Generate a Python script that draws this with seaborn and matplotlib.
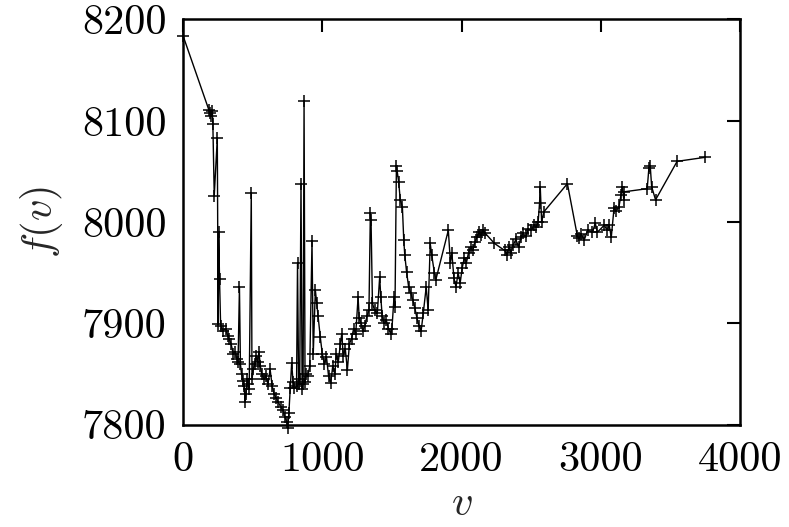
import matplotlib
matplotlib.use("Agg")
import matplotlib.pyplot as plt
import seaborn as sns
import pandas as pd

v = [0, 185, 192, 200, 210, 214, 224, 246, 252, 256, 262, 270,
     290, 305, 320, 330, 345, 360, 375, 385, 395, 405, 412, 420, 430, 440, 445, 452, 460, 468, 475,
     490, 495, 505, 515, 525, 535, 545, 555, 565, 580, 595, 610, 625, 640, 655, 670, 685, 700, 715,
     730, 745, 752, 760, 770, 780, 790, 800, 815, 822, 830, 838, 847, 855, 862, 869, 876, 885, 895,
     910, 926, 935, 950, 960, 970, 985, 1000, 1015, 1030, 1045, 1060, 1075, 1090, 1100, 1115, 1130,
     1140, 1150, 1165, 1180, 1195, 1210, 1225, 1240, 1257, 1265, 1280, 1290, 1305, 1320, 1335, 1345,
     1350, 1360, 1375, 1395, 1412, 1420, 1430, 1445, 1460, 1475, 1490, 1500, 1515, 1522, 1532, 1538,
     1548, 1560, 1575, 1585, 1592, 1605, 1620, 1635, 1650, 1665, 1680, 1695, 1710, 1725, 1746, 1760,
     1775, 1785, 1805, 1815, 1905, 1920, 1930, 1945, 1960, 1975, 1990, 2005, 2020, 2035, 2050, 2065,
     2080, 2095, 2110, 2125, 2140, 2155, 2170, 2236, 2310, 2325, 2340, 2355, 2370, 2390, 2410, 2425,
     2440, 2460, 2480, 2500, 2520, 2535, 2550, 2560, 2565, 2575, 2590, 2760, 2832, 2845, 2860, 2880,
     2905, 2940, 2960, 2975, 3025, 3045, 3060, 3075, 3095, 3110, 3130, 3145, 3155, 3165, 3170, 3333,
     3345, 3355, 3365, 3393, 3548, 3751]

f = [8184, 8111, 8108, 8105, 8110, 8097, 8026, 8083, 7899, 7990, 7944, 7897,
     7893, 7895, 7888, 7885, 7880, 7870, 7872, 7865, 7862, 7936, 7860, 7850, 7843, 7838, 7822, 7830, 7845, 7840, 7835,
     8029, 7845, 7855, 7860, 7868, 7862, 7872, 7858, 7850, 7845, 7848, 7840, 7855, 7838, 7830, 7826, 7822, 7818, 7815,
     7808, 7803, 7797, 7812, 7836, 7861, 7842, 7836, 7838, 7960, 7840, 7845, 8038, 7835, 7840, 8120, 7842, 7850, 7848,
     7858, 7981, 7870, 7933, 7920, 7907, 7887, 7870, 7860, 7867, 7848, 7841, 7858, 7850, 7870, 7862, 7880,
     7890, 7868, 7875, 7854, 7880, 7885, 7895, 7890, 7926, 7905, 7900, 7893, 7897, 7907, 7913, 8009,
     8002, 7920, 7913, 7910, 7946, 7926, 7907, 7900, 7903, 7895, 7890, 7895, 7926, 7916, 8055, 8050,
     8040, 8022, 8015, 7982, 7968, 7951, 7936, 7930, 7923, 7915, 7905, 7897, 7893, 7910, 7936, 7913,
     7979, 7968, 7950, 7943, 7992, 7960, 7970, 7945, 7936, 7950, 7940, 7955, 7965, 7960, 7970, 7975,
     7972, 7980, 7985, 7990, 7987, 7992, 7989, 7979, 7972, 7968, 7975, 7970, 7977, 7983, 7975, 7985,
     7989, 7986, 7993, 7992, 7997, 7995, 8000, 8019, 8035, 8000, 8010, 8038, 7986, 7984, 7988, 7982,
     7992, 7990, 7999, 7990, 7997, 7992, 7997, 7985, 8014, 8011, 8015, 8027, 8035, 8022, 8030, 8033,
     8053, 8055, 8035, 8022, 8060, 8064]

xticks = [0, 1000, 2000, 3000, 4000]
yticks = [7800, 7900, 8000, 8100, 8200]

sns.set_style("white")
plt.rcParams["font.family"] = "serif"
plt.rcParams["font.serif"] = ["cmr10"]
plt.rcParams["mathtext.fontset"] = "cm"
plt.rcParams["axes.formatter.use_mathtext"] = True

df = pd.DataFrame({"v": v, "f": f})

fig = plt.figure(figsize=(7.89, 5.27), dpi=100)
ax = fig.add_axes([0.232, 0.194, 0.706, 0.769])
sns.lineplot(data=df, x="v", y="f", ax=ax, estimator=None, sort=False,
             color="black", linewidth=1.0, marker="+", markersize=9,
             markeredgewidth=1.1, markeredgecolor="black", clip_on=False)

ax.set_xlim(0, 4000)
ax.set_ylim(7800, 8200)
ax.set_xticks(xticks)
ax.set_yticks(yticks)
ax.set_xticklabels([str(t) for t in xticks])
ax.set_yticklabels([str(t) for t in yticks])
ax.tick_params(direction="in", length=9.5, width=1.5, top=True, right=True,
               labelsize=30.5, pad=12, colors="black")
for s in ax.spines.values():
    s.set_linewidth(1.8)
    s.set_color("black")
ax.set_xlabel(r"$v$", fontsize=30.5, labelpad=5)
ax.set_ylabel(r"$f(v)$", fontsize=30.5, labelpad=12)

fig.savefig("out.png", dpi=100)
